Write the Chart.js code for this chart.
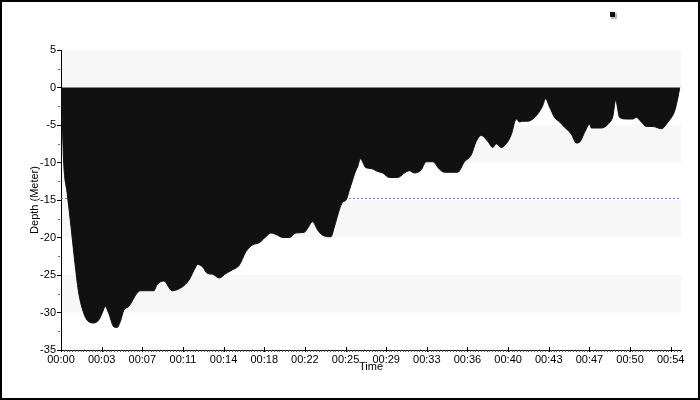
<!DOCTYPE html>
<html><head><meta charset="utf-8">
<script src="https://cdn.jsdelivr.net/npm/chart.js@4"></script>
<style>html,body{margin:0;padding:0;background:#fff}</style>
</head><body>
<canvas id="c" width="700" height="400"></canvas>
<script>
// ---- data ----
const timeMinutes = [0, 0.09, 0.24, 0.54, 0.83, 1.28, 1.58, 2.03, 2.32, 2.92, 3.37,
  3.67, 3.96, 4.26, 4.71, 5.01, 5.30, 5.61, 6.05, 6.80, 7.09,
  8.29, 8.58, 9.18, 9.92, 10.82, 11.42, 12.04, 12.19, 12.63, 13.08,
  13.53, 14.13, 14.73, 15.32, 15.92, 16.51, 17.10, 17.70, 18.44, 18.75,
  19.34, 19.79, 20.39, 20.98, 21.73, 22.02, 22.47, 22.92, 23.36, 24.11,
  24.41, 24.86, 25.15, 25.46, 25.75, 26.05, 26.35, 26.49, 26.73, 27.24,
  27.69, 28.28, 28.73, 29.33, 30.07, 30.67, 31.11, 31.56, 32.16, 32.61,
  33.20, 33.80, 34.24, 35.43, 36.03, 36.63, 37.08, 37.52, 38.12, 38.56,
  38.87, 39.31, 39.76, 40.21, 40.66, 40.95, 41.24, 41.69, 42.14, 42.59,
  43.03, 43.27, 43.63, 44.08, 44.53, 44.97, 45.57, 46.02, 46.31, 46.76,
  47.21, 47.36, 48.25, 48.85, 49.29, 49.53, 49.89, 50.49, 51.08, 51.38,
  51.83, 52.28, 52.87, 53.62, 54.21, 54.81, 55.10, 55.26];
const depthMeters = [0, -3.4, -10.1, -14.0, -17.7, -23.9, -27.4, -30.1, -31.0, -31.4, -31.0,
  -30.1, -29.2, -30.1, -31.9, -32.0, -31.2, -29.7, -29.2, -27.4, -27.1,
  -27.1, -26.3, -25.8, -27.1, -26.6, -25.7, -23.9, -23.6, -23.9, -24.8,
  -24.9, -25.4, -24.8, -24.3, -23.7, -21.9, -21.0, -20.7, -19.7, -19.4,
  -19.7, -20.0, -20.0, -19.4, -19.3, -18.8, -17.9, -19.0, -19.7, -19.9,
  -18.6, -16.3, -15.3, -15.0, -13.7, -12.3, -11.0, -10.6, -9.5, -10.7,
  -10.8, -11.2, -11.4, -12.0, -12.0, -11.4, -11.1, -11.4, -11.0, -9.9,
  -9.9, -10.9, -11.3, -11.3, -9.9, -9.0, -7.2, -6.4, -7.2, -8.0,
  -7.5, -8.0, -7.5, -6.3, -4.2, -4.6, -4.5, -4.5, -4.2, -3.5,
  -2.4, -1.5, -2.6, -4.0, -4.6, -5.3, -6.2, -7.4, -7.3, -6.0,
  -4.9, -5.4, -5.4, -4.9, -3.8, -1.7, -4.0, -4.2, -4.2, -4.0,
  -4.6, -5.2, -5.2, -5.5, -4.6, -3.1, -1.3, 0];
const xTickLabels = ['00:00','00:03','00:07','00:11','00:14','00:18','00:22','00:25',
  '00:29','00:33','00:36','00:40','00:43','00:47','00:50','00:54'];
const xTickStep = 3.63;      // minutes between labelled ticks
const xMaxMinutes = 55.37;
const yMin = -35, yMax = 5, yStep = 5;
const referenceDepth = -14.8;

const FONT = {family: "'Liberation Sans', Arial, sans-serif", size: 11};

const decor = {
  id: 'decor',
  beforeDraw(chart) {
    const {ctx, chartArea: a, scales: {y}} = chart;
    ctx.save();
    ctx.fillStyle = '#fff';
    ctx.fillRect(0, 0, chart.width, chart.height);
    ctx.fillStyle = '#f7f7f7';
    for (let v = yMax, i = 0; v > yMin; v -= yStep, i++) {
      if (i % 2 === 0) {
        const t = y.getPixelForValue(v), b = y.getPixelForValue(v - yStep);
        ctx.fillRect(a.left, t, a.right - a.left, b - t);
      }
    }
    ctx.restore();
  },
  afterDraw(chart) {
    const {ctx, chartArea: a, scales: {x, y}} = chart;
    ctx.save();
    ctx.strokeStyle = '#ff3030';
    ctx.lineWidth = 1;
    for (let v = yMax - yStep / 2; v > yMin; v -= yStep) {
      const p = Math.round(y.getPixelForValue(v)) + 0.5;
      ctx.beginPath(); ctx.moveTo(a.left - 3, p); ctx.lineTo(a.left - 1, p); ctx.stroke();
    }
    ctx.strokeStyle = '#555';
    for (let t = 0; t <= xMaxMinutes; t += 0.25) {
      const p = Math.round(x.getPixelForValue(t)) + 0.5;
      if (p > a.right) break;
      ctx.beginPath(); ctx.moveTo(p, a.bottom); ctx.lineTo(p, a.bottom + 2); ctx.stroke();
    }
    ctx.strokeStyle = '#000';
    xTickLabels.forEach((_, i) => {
      const p = Math.round(x.getPixelForValue(i * xTickStep)) + 0.5;
      ctx.beginPath(); ctx.moveTo(p, a.bottom - 3); ctx.lineTo(p, a.bottom + 2); ctx.stroke();
    });
    ctx.fillStyle = '#bbb';
    ctx.fillRect(611, 13, 6, 6);
    ctx.fillStyle = '#111';
    ctx.fillRect(610, 12, 5, 5);
    ctx.strokeStyle = '#000';
    ctx.lineWidth = 2;
    ctx.strokeRect(1, 1, 698, 398);
    ctx.restore();
  }
};

new Chart(document.getElementById('c'), {
  type: 'line',
  data: {
    datasets: [{
      label: '',
      data: timeMinutes.map((t, i) => ({x: t, y: depthMeters[i]})),
      borderColor: '#111111',
      backgroundColor: '#111111',
      borderWidth: 1,
      fill: 'origin',
      pointRadius: 0,
      cubicInterpolationMode: 'monotone',
      order: 0
    }, {
      label: 'ref',
      data: [{x: 0, y: referenceDepth}, {x: xMaxMinutes, y: referenceDepth}],
      borderColor: '#6f6fff',
      borderWidth: 1,
      borderDash: [2, 2],
      pointRadius: 0,
      fill: false,
      order: 1
    }]
  },
  options: {
    responsive: false,
    animation: false,
    devicePixelRatio: 1,
    layout: {padding: {top: 50, right: 19, left: 0, bottom: 0}},
    plugins: {legend: {display: false}, tooltip: {enabled: false}},
    scales: {
      x: {
        type: 'linear', min: 0, max: xMaxMinutes,
        afterFit(s) { s.height = 50; },
        afterBuildTicks(s) { s.ticks = xTickLabels.map((_, i) => ({value: i * xTickStep})); },
        ticks: {
          autoSkip: false, maxRotation: 0, padding: 3, color: '#000', font: FONT,
          callback: (v, i) => xTickLabels[i]
        },
        grid: {display: true, drawOnChartArea: false, drawTicks: false},
        border: {display: true, color: '#000', width: 1},
        title: {display: true, text: 'Time', color: '#000', font: FONT, padding: {top: 0, bottom: 26}}
      },
      y: {
        min: yMin, max: yMax,
        afterFit(s) { s.width = 61; },
        ticks: {stepSize: yStep, padding: 1, color: '#000', font: FONT},
        grid: {display: true, drawOnChartArea: false, drawTicks: true, tickLength: 4, color: '#000'},
        border: {display: true, color: '#000', width: 1},
        title: {display: true, text: 'Depth (Meter)', color: '#000', font: FONT, padding: {top: 28, bottom: 0}}
      }
    }
  },
  plugins: [decor]
});
</script>
</body></html>
